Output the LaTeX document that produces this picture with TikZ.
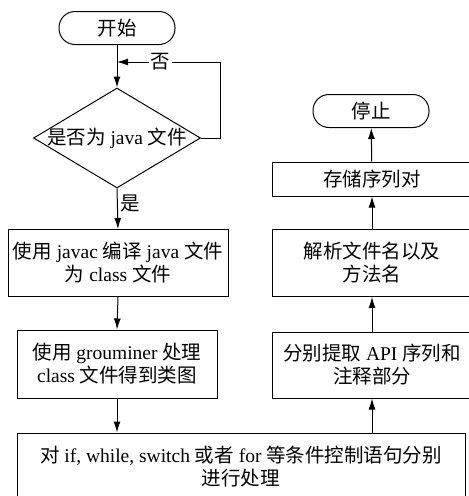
\documentclass[tikz,border=0pt]{standalone}
\usepackage{fontspec}
\setmainfont{Liberation Serif}
\newfontfamily\cjk{Noto Sans CJK SC}
\newcommand{\zh}[1]{{\cjk #1}}
\usetikzlibrary{shapes.geometric,arrows.meta}

\begin{document}
\begin{tikzpicture}[x=1pt,y=-1pt,line width=1pt,
  every node/.style = {align=center, font=\fontsize{19.5}{23}\selectfont},
  box/.style = {shape=rectangle, draw, inner sep=0pt},
  term/.style = {box, rounded corners=16pt, minimum width=116pt, minimum height=33pt},
  arr/.style = {-{Latex[length=11pt,width=7pt]}}]

  \useasboundingbox (0,0) rectangle (469,496);

  % left column
  \node[term] (start) at (117,28) {\zh{开始}};
  \node[draw, diamond, minimum width=167pt, minimum height=100pt, inner sep=0pt] (check) at (117,138) {};
  \node (checktext) at (check) {\zh{是否为} java \zh{文件}};
  \node[box, minimum width=220pt, minimum height=67pt] (compile) at (118,263)
    {\zh{使用} javac \zh{编译} java \zh{文件} \\ \zh{为} class \zh{文件}};
  \node[box, minimum width=200pt, minimum height=68pt] (graph) at (117,364)
    {\zh{使用} grouminer \zh{处理} \\ class \zh{文件得到类图}};
  \node[box, minimum width=448pt, minimum height=68pt] (cond) at (241,467)
    {\zh{对} if, while, switch \zh{或者} for \zh{等条件控制语句分别} \\ \zh{进行处理}};

  % right column
  \node[box, minimum width=200pt, minimum height=66pt] (extract) at (372,365)
    {\zh{分别提取} API \zh{序列和} \\ \zh{注释部分}};
  \node[box, minimum width=200pt, minimum height=67pt] (parse) at (372,263)
    {\zh{解析文件名以及} \\ \zh{方法名}};
  \node[box, minimum width=200pt, minimum height=34pt] (store) at (372,179) {\zh{存储序列对}};
  \node[term] (stop) at (371,111) {\zh{停止}};

  \coordinate (join) at (117,62);

  % connectors
  \draw[arr] (start) -- (check);
  \draw[arr] (check.east) -- ++(19,0) |- node[pos=0.79, fill=white, inner sep=2pt] (no) {\zh{否}} (join);
  \draw[arr] (check.south) -- node[right, pos=0.36, inner sep=3pt] (yes) {\zh{是}} (compile.north);
  \draw[arr] (compile.south) -- (graph.north);
  \draw[arr] (graph.south) -- (graph.south |- cond.north);
  \draw[arr] (extract.south |- cond.north) -- (extract.south);
  \draw[arr] (extract) -- (parse);
  \draw[arr] (parse) -- (store);
  \draw[arr] (store) -- (stop);
\end{tikzpicture}
\end{document}
